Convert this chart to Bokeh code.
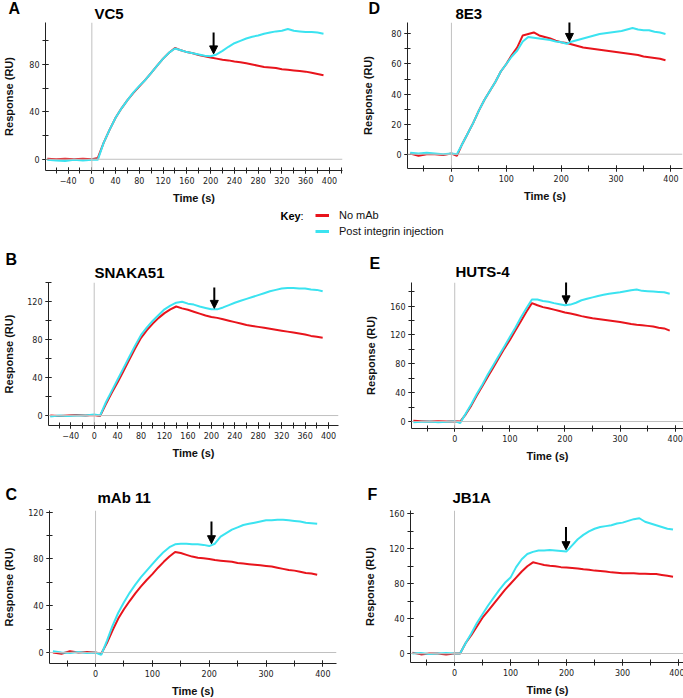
from bokeh.plotting import figure
from bokeh.layouts import column, row
from bokeh.models import (Span, Label, Arrow, NormalHead, Legend, LegendItem,
                          SingleIntervalTicker, Range1d)
from bokeh.embed import file_html
from bokeh.resources import INLINE

# ---------------- data ----------------
T = [-75, -60, -45, -30, -15, 0, 10, 20, 30, 40, 50, 60, 70, 80, 90, 100, 110, 120,
     130, 140, 150, 160, 170, 180, 190, 200, 210, 220, 230, 240, 250, 260, 270, 280,
     290, 300, 310, 320, 330, 340, 350, 360, 370, 380, 390]

A_red = [0.5, 0, 0.5, 0, 0.5, 0, 1, 14, 25, 35, 43, 50, 56, 61.5, 67, 73, 79, 85, 90, 94,
         92, 90.5, 89.5, 88, 87, 86, 85, 84, 83.5, 82.5, 82, 81, 80, 79, 78, 77.5, 77, 76,
         75.5, 75, 74.5, 74, 73, 72, 71]
A_cyan = [-0.5, -1, -1.5, -0.5, -1, -0.5, -0.5, 14, 25, 35, 43, 50, 56.5, 62, 67, 73, 79,
          85, 90, 93.5, 92, 90.5, 89.5, 88.5, 87.5, 87, 88.5, 91.5, 95, 98, 100, 102,
          103.5, 104.5, 106, 107, 108, 108.5, 110, 108.5, 108, 107.5, 107.5, 107, 106]

D_red = [0.5, -1, 0, 0, -0.5, 0.5, -1, 7, 14, 21, 29, 36, 42, 48, 55, 60, 66, 71, 79,
         80, 81, 79, 78, 77, 75.5, 74.5, 74, 73, 72, 71, 70.5, 70, 69.5, 69, 68.5, 68,
         67.5, 67, 66.5, 66, 65, 64.5, 64, 63.5, 62.5]
D_cyan = [1, 0.5, 1, 0.5, 0, 0.5, 0, 7, 14, 21, 29, 36, 42, 48, 55, 60, 65, 69, 75, 78,
          77.5, 77, 76.5, 76, 75, 74.5, 73.5, 75, 76, 77, 78, 79, 80, 80.5, 81, 81.5, 82,
          83, 84, 83, 82.5, 82.5, 81.5, 81, 80]

B_red = [0, -0.5, 0, 0.5, 0, 0.5, -0.5, 12, 24, 35, 47, 59, 71, 82, 90, 97, 103, 108,
         112, 115, 113, 111.5, 109.5, 107.5, 105.5, 104, 103, 101.5, 100, 98.5, 97, 95.5,
         94.5, 93.5, 92.5, 91.5, 90.5, 89.5, 88.5, 87.5, 86.5, 85.5, 84, 83, 82]
B_cyan = [-1, 0, -0.5, 0, 0, 1, 0, 14, 26, 38, 50, 62, 74, 85, 93, 100, 106, 112, 116,
          119, 120, 118, 117, 115, 113.5, 112, 112, 114, 116.5, 119, 121, 123, 125, 127,
          129, 131, 132.5, 134, 134.5, 134.5, 134, 134, 133, 132.5, 131]

E_red = [1, 0.5, 0, 0.5, 0, 0.5, 0, 10, 22, 36, 49, 62, 75, 88, 101, 113, 126, 139, 152,
         164, 161, 158.5, 157, 155, 153, 151, 149.5, 148, 146, 144.5, 143, 142, 141, 140,
         139, 138, 136.5, 135, 134, 133.5, 132.5, 131.5, 130, 129, 126]
E_cyan = [-1, -0.5, 0, -1, -0.5, 0.5, -2, 11, 24, 38, 51, 65, 78, 91, 104, 117, 130, 144,
          157, 169, 169, 167, 166, 164, 162.5, 161, 162, 164.5, 168, 170, 172, 174, 175.5,
          177, 178, 179, 180.5, 182, 183, 181, 180.5, 180, 179.5, 179, 177]

C_red = [0, -1, 1, 0, 0.5, 0, -1, 8, 19, 29, 37, 44, 50.5, 56.5, 62, 67, 72.5, 77.5, 82,
         86, 85, 83.5, 82, 81, 80.5, 80, 79, 78.5, 78, 77.5, 76.5, 76, 75.5, 75, 74.5,
         74, 73.5, 72.5, 71.5, 70.5, 70, 69, 68, 67.5, 66.5]
C_cyan = [1, 0, -0.5, 0.5, -0.5, 0, -2, 10, 23, 34, 43, 51, 58, 64.5, 70, 75.5, 81, 86,
          90, 92.5, 93, 93, 92.5, 92.5, 92, 91, 93, 99, 102, 105, 107, 109, 110, 111, 112,
          113, 113, 113.5, 113.5, 113, 112.5, 112, 111, 110.5, 110]

F_red = [1, -1, 0, 0, -1, 0, 0, 12, 21, 31, 41, 49, 57, 65, 73, 80, 87, 94, 100, 104.5,
         103, 101.5, 100.5, 100, 99, 98.5, 98, 97.5, 96.5, 96, 95, 94.5, 94, 93, 92.5, 92,
         92, 92, 91.5, 91.5, 91, 91, 90, 89, 88]
F_cyan = [0, 0.5, -0.5, 0, 0.5, 0, 0, 12, 23, 35, 45, 55, 64, 73, 81, 87, 99, 108, 114,
          116.5, 118, 118, 118.5, 118, 117.5, 117, 124, 131, 136, 140, 143, 145, 146, 147,
          149, 150, 152, 154, 155, 151, 149, 147, 145, 143, 142]

# injection arrows: (time, response at tail, response at head)
A_arrow = (205, 107, 89)
D_arrow = (215, 90, 75)
B_arrow = (205, 135, 113)
E_arrow = (202, 194, 163)
C_arrow = (204, 112, 93)
F_arrow = (199, 145, 119)

names = ["VC5", "8E3", "SNAKA51", "HUTS-4", "mAb 11", "JB1A"]
letters = ["A", "D", "B", "E", "C", "F"]
key_labels = ["No mAb", "Post integrin injection"]

RED = "#e8141c"
CYAN = "#3be3f0"
AXC = "#222222"
FONT = "Liberation Sans"
W = 681


def panel(red, cyan, arrow, xr, yr, xmaj, ymaj, fw, fh, bl, bt, bb, br, ylab_stand):
    p = figure(frame_width=fw, frame_height=fh, min_border_left=bl, min_border_top=bt,
               min_border_bottom=bb, min_border_right=br,
               x_range=Range1d(*xr), y_range=Range1d(*yr),
               output_backend="svg", toolbar_location=None, tools="")
    p.outline_line_color = None
    p.grid.visible = False
    p.add_layout(Span(location=0, dimension="width", line_color="#c0c0c0", line_width=1))
    p.add_layout(Span(location=0, dimension="height", line_color="#c0c0c0", line_width=1))
    p.line(T, red, line_color=RED, line_width=2)
    p.line(T, cyan, line_color=CYAN, line_width=2)
    t, y0, y1 = arrow
    p.add_layout(Arrow(x_start=t, y_start=y0, x_end=t, y_end=y1, line_color="black",
                       line_width=2,
                       end=NormalHead(size=8, fill_color="black", line_color="black")))
    p.xaxis.ticker = SingleIntervalTicker(interval=xmaj, num_minor_ticks=2)
    p.yaxis.ticker = SingleIntervalTicker(interval=ymaj, num_minor_ticks=2)
    p.xaxis.axis_label = "Time (s)"
    p.yaxis.axis_label = "Response (RU)"
    for ax in (p.xaxis[0], p.yaxis[0]):
        ax.axis_line_color = AXC
        ax.major_tick_line_color = AXC
        ax.minor_tick_line_color = AXC
        ax.major_tick_in = 3
        ax.major_tick_out = 3
        ax.minor_tick_in = 3
        ax.minor_tick_out = 3
        ax.major_label_text_font = "DejaVu Sans"
        ax.major_label_text_font_size = "8px"
        ax.major_label_text_color = "#222222"
        ax.axis_label_text_font = FONT
        ax.axis_label_text_font_style = "bold"
        ax.axis_label_text_font_size = "11px"
        ax.axis_label_text_color = "#111111"
        ax.major_label_standoff = 3
    p.xaxis.axis_label_standoff = 5
    p.yaxis.axis_label_standoff = ylab_stand
    return p


def strip(h):
    s = figure(width=W, height=h, min_border=0, x_range=Range1d(0, W),
               y_range=Range1d(h, 0), x_axis_location=None, y_axis_location=None,
               output_backend="svg", toolbar_location=None, tools="")
    s.outline_line_color = None
    s.grid.visible = False
    return s


def add_text(s, x, y, txt, size, bold=True):
    s.add_layout(Label(x=x, y=y, text=txt, text_font=FONT,
                       text_font_style="bold" if bold else "normal",
                       text_font_size=size, text_baseline="middle", text_align="left",
                       text_color="black"))


pA = panel(A_red, A_cyan, A_arrow, (-78, 422), (-9.5, 115.5), 40, 40,
           297, 148, 43, 0, 36, 3, 11)
pD = panel(D_red, D_cyan, D_arrow, (-80, 421), (-9.5, 87.6), 100, 20,
           275, 146, 62, 0, 38, 1, 14)
pB = panel(B_red, B_cyan, B_arrow, (-78, 417), (-10.5, 140.3), 40, 40,
           290, 143, 45, 0, 37, 8, 9)
pE = panel(E_red, E_cyan, E_arrow, (-78.4, 415), (-9.7, 192.6), 100, 40,
           272, 146, 65, 0, 34, 1, 10)
pC = panel(C_red, C_cyan, C_arrow, (-81, 424), (-9.4, 121.4), 100, 40,
           287, 153, 46, 3, 35, 10, 10)
pF = panel(F_red, F_cyan, F_arrow, (-78.5, 410.5), (-10.3, 163.9), 100, 40,
           274, 152, 64, 3, 36, 0, 10)

# header strip above the first row
h1 = strip(22)
add_text(h1, 8, 8, letters[0], "16px")
add_text(h1, 368, 8, letters[1], "16px")
add_text(h1, 94, 13, names[0], "15px")
add_text(h1, 455, 13, names[1], "15px")

# key + header of the second row
h2 = strip(76)
nan = float("nan")
r1 = h2.line([nan, nan], [nan, nan], line_color=RED, line_width=3)
r2 = h2.line([nan, nan], [nan, nan], line_color=CYAN, line_width=3)
leg = Legend(items=[LegendItem(label=key_labels[0], renderers=[r1]),
                    LegendItem(label=key_labels[1], renderers=[r2])],
             location=(315, 44), padding=0, margin=0, spacing=2,
             glyph_width=14, glyph_height=14, label_height=14, label_standoff=10,
             label_text_font=FONT, label_text_font_size="11px",
             label_text_color="#111111",
             border_line_color=None, background_fill_alpha=0)
h2.add_layout(leg)
add_text(h2, 280, 9, "Key", "11px")
add_text(h2, 300, 9, ":", "11px", bold=False)
add_text(h2, 5, 53, letters[2], "16px")
add_text(h2, 369, 57, letters[3], "16px")
add_text(h2, 94, 66, names[2], "15px")
add_text(h2, 455, 65, names[3], "15px")

# header of the third row
h3 = strip(43)
add_text(h3, 5, 30, letters[4], "16px")
add_text(h3, 367, 30, letters[5], "16px")
add_text(h3, 97, 33, names[4], "15px")
add_text(h3, 452, 33, names[5], "15px")

layout = column(h1, row(pA, pD), h2, row(pB, pE), h3, row(pC, pF))
open("out.html", "w").write(file_html(layout, INLINE))
